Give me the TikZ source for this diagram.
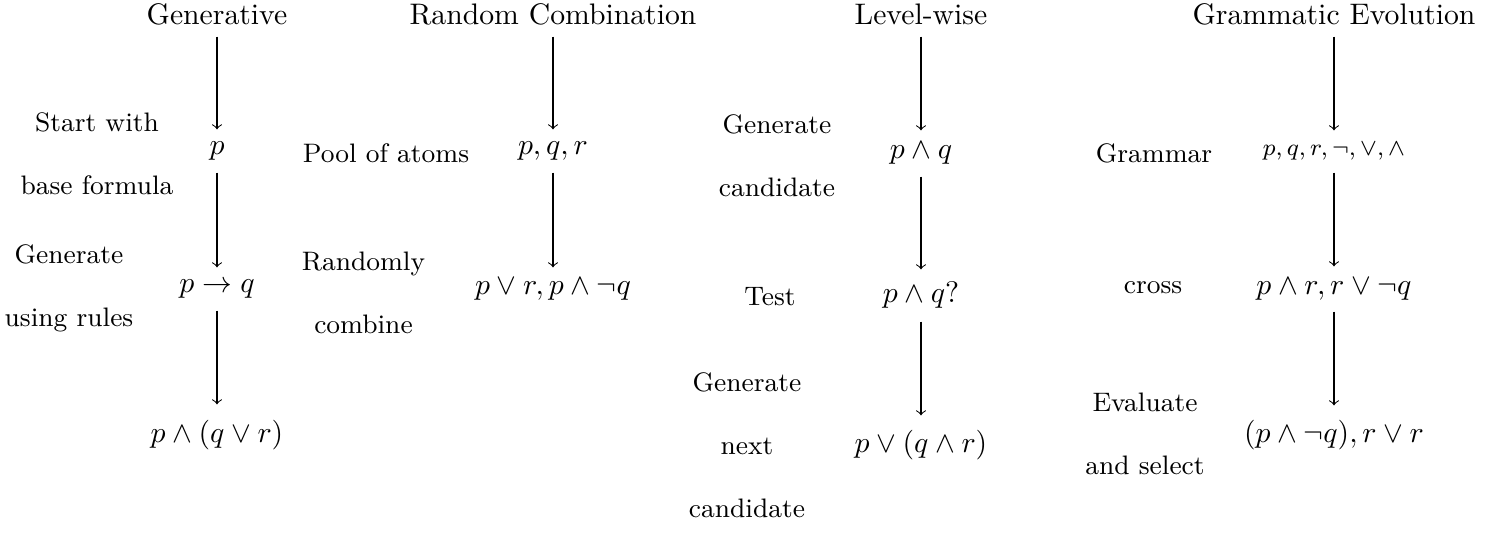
\documentclass[tikz,border=0pt]{standalone}
\usepackage{fontspec}
\def\U{0.3367pt}
\begin{document}
\begin{tikzpicture}[x=0.3367pt,y=-0.3367pt,
  ttl/.style={inner sep=0pt, minimum height=44*\U, font=\fontsize{10}{12}\selectfont},
  mth/.style={inner sep=0pt, font=\fontsize{10}{12}\selectfont},
  lbl/.style={align=center, inner sep=0pt, font=\fontsize{9}{21.2}\selectfont},
  arr/.style={->, line width=0.35pt}]
\useasboundingbox (0,0) rectangle (1504,534);
% Column 1
\node[ttl] (g0) at (217,14) {Generative};
\node[mth, minimum height=42*\U] (g1) at (217,151) {$p$};
\node[mth, minimum height=42*\U] (g2) at (217,289) {$p \rightarrow q$};
\node[mth, minimum height=60*\U] (g3) at (217,435) {$p \wedge (q \vee r)$};
\draw[arr] (g0) -- (g1);
\draw[arr] (g1) -- (g2);
\draw[arr] (g2) -- (g3);
\node[lbl] (gl1) at (97,153.5) {Start with\\base formula};
\node[lbl] (gl2) at (69,288.5) {Generate\\using rules};
% Column 2
\node[ttl] (r0) at (553,14) {Random Combination};
\node[mth, minimum height=42*\U] (r1) at (553,151) {$p, q, r$};
\node[mth, minimum height=42*\U] (r2) at (553,289) {$p \vee r, p \wedge \neg q$};
\draw[arr] (r0) -- (r1);
\draw[arr] (r1) -- (r2);
\node[lbl] (rl1) at (386,153) {Pool of atoms};
\node[lbl] (rl2) at (363.5,292.5) {Randomly\\combine};
% Column 3
\node[ttl] (l0) at (921,14) {Level-wise};
\node[mth, minimum height=45*\U] (l1) at (921,153.5) {$p \wedge q$};
\node[mth, minimum height=51*\U] (l2) at (921,295.5) {$p \wedge q?$};
\node[mth, minimum height=58*\U] (l3) at (921,445) {$p \vee (q \wedge r)$};
\draw[arr] (l0) -- (l1);
\draw[arr] (l1) -- (l2);
\draw[arr] (l2) -- (l3);
\node[lbl] (ll1) at (777,155.5) {Generate\\candidate};
\node[lbl] (ll2) at (770,297) {Test};
\node[lbl] (ll3) at (747,445) {Generate\\next\\candidate};
% Column 4
\node[ttl] (e0) at (1334,14) {Grammatic Evolution};
\node[mth, minimum height=41*\U, font=\fontsize{8.5}{10}\selectfont] (e1) at (1334,151.5) {$p, q, r, \neg, \vee, \wedge$};
\node[mth, minimum height=44*\U] (e2) at (1334,289) {$p \wedge r, r \vee \neg q$};
\node[mth, minimum height=58*\U] (e3) at (1334,435) {$(p \wedge \neg q), r \vee r$};
\draw[arr] (e0) -- (e1);
\draw[arr] (e1) -- (e2);
\draw[arr] (e2) -- (e3);
\node[lbl] (el1) at (1154,153) {Grammar};
\node[lbl] (el2) at (1153,288) {cross};
\node[lbl] (el3) at (1145,434) {Evaluate\\and select};
\end{tikzpicture}
\end{document}
